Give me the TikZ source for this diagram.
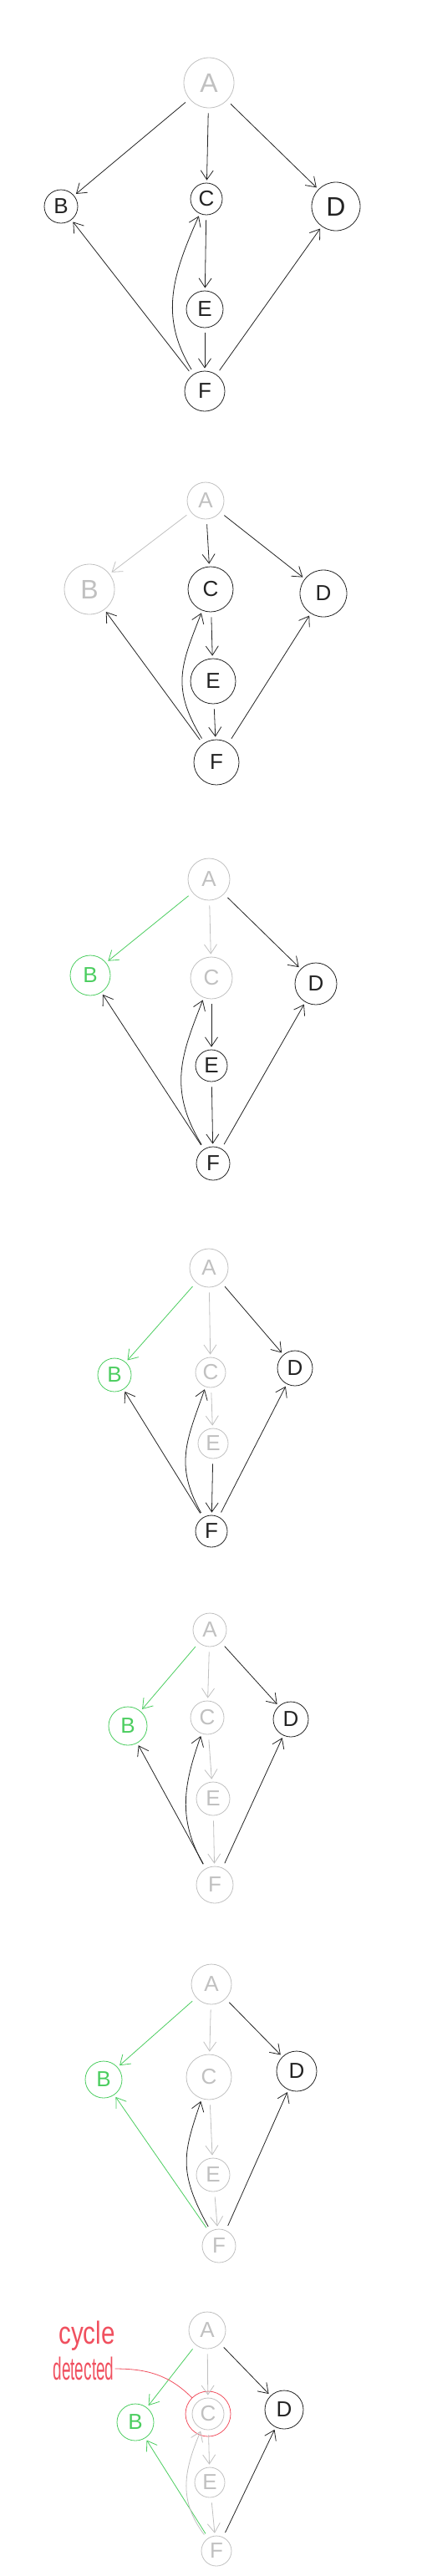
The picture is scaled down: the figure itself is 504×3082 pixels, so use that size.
\documentclass[tikz,border=0pt]{standalone}
\usepackage{fontspec}
\setmainfont{Liberation Sans}
\usetikzlibrary{arrows.meta}
\definecolor{lg}{RGB}{192,192,192}
\definecolor{gr}{RGB}{75,205,95}
\definecolor{rd}{RGB}{240,80,95}
\definecolor{ink}{RGB}{35,35,35}
\begin{document}
\begin{tikzpicture}[x=1pt,y=-1pt,
 nd/.style={circle,draw,inner sep=0pt,minimum size=#1pt,line width=0.8pt,font=\fontsize{26}{26}\selectfont},
 big/.style={font=\fontsize{32}{32}\selectfont},
 gn/.style={nd=#1,draw=lg,text=lg},
 kn/.style={nd=#1,draw=ink,text=ink},
 grn/.style={nd=#1,draw=gr,text=gr},
 ed/.style={line width=0.8pt,-{Straight Barb[length=11pt,width=15pt]},shorten >=3pt,shorten <=6pt},
 ge/.style={ed,draw=lg},
 ke/.style={ed,draw=ink},
 gre/.style={ed,draw=gr},
 note/.style={text=rd,inner sep=1pt,font=\fontsize{38}{38}\selectfont},
]
\useasboundingbox (0,0) rectangle (504,3082);
% ---------- panel 1
\node[gn=60,big] (a1) at (250,99) {A};
\node[kn=40] (b1) at (73,247) {B};
\node[kn=38] (c1) at (247,238) {C};
\node[kn=58,big] (d1) at (402,247) {D};
\node[kn=44] (e1) at (245,370) {E};
\node[kn=48] (f1) at (245,468) {F};
\draw[ke] (a1) -- (b1);
\draw[ke] (a1) -- (c1);
\draw[ke] (a1) -- (d1);
\draw[ke] (c1) -- (e1);
\draw[ke] (e1) -- (f1);
\draw[ke] (f1) -- (b1);
\draw[ke] (f1) .. controls +(-55,-90) and +(-40,90) .. (c1);
\draw[ke] (f1) -- (d1);
% ---------- panel 2
\node[gn=44] (a2) at (246,599) {A};
\node[gn=60,big] (b2) at (107,705) {B};
\node[kn=54] (c2) at (252,705) {C};
\node[kn=56] (d2) at (387,710) {D};
\node[kn=54] (e2) at (255,815) {E};
\node[kn=54] (f2) at (259,912) {F};
\draw[ge] (a2) -- (b2);
\draw[ke] (a2) -- (c2);
\draw[ke] (a2) -- (d2);
\draw[ke] (c2) -- (e2);
\draw[ke] (e2) -- (f2);
\draw[ke] (f2) -- (b2);
\draw[ke] (f2) .. controls +(-55,-90) and +(-35,90) .. (c2);
\draw[ke] (f2) -- (d2);
% ---------- panel 3
\node[gn=50] (a3) at (250,1052) {A};
\node[grn=48] (b3) at (108,1167) {B};
\node[gn=50] (c3) at (253,1170) {C};
\node[kn=50] (d3) at (378,1177) {D};
\node[kn=38] (e3) at (253,1275) {E};
\node[kn=40] (f3) at (255,1392) {F};
\draw[gre] (a3) -- (b3);
\draw[ge] (a3) -- (c3);
\draw[ke] (a3) -- (d3);
\draw[ke] (c3) -- (e3);
\draw[ke] (e3) -- (f3);
\draw[ke] (f3) -- (b3);
\draw[ke] (f3) .. controls +(-55,-90) and +(-35,90) .. (c3);
\draw[ke] (f3) -- (d3);
% ---------- panel 4
\node[gn=46] (a4) at (250,1517) {A};
\node[grn=40] (b4) at (137,1645) {B};
\node[gn=36] (c4) at (252,1642) {C};
\node[kn=42] (d4) at (353,1637) {D};
\node[gn=36] (e4) at (255,1727) {E};
\node[kn=38] (f4) at (253,1832) {F};
\draw[gre] (a4) -- (b4);
\draw[ge] (a4) -- (c4);
\draw[ke] (a4) -- (d4);
\draw[ge] (c4) -- (e4);
\draw[ke] (e4) -- (f4);
\draw[ke] (f4) -- (b4);
\draw[ke] (f4) .. controls +(-45,-80) and +(-28,80) .. (c4);
\draw[ke] (f4) -- (d4);
% ---------- panel 5
\node[gn=40] (a5) at (251,1950) {A};
\node[grn=46] (b5) at (153,2065) {B};
\node[gn=40] (c5) at (248,2055) {C};
\node[kn=42] (d5) at (348,2057) {D};
\node[gn=40] (e5) at (255,2152) {E};
\node[gn=44] (f5) at (257,2255) {F};
\draw[gre] (a5) -- (b5);
\draw[ge] (a5) -- (c5);
\draw[ke] (a5) -- (d5);
\draw[ge] (c5) -- (e5);
\draw[ge] (e5) -- (f5);
\draw[ke] (f5) -- (b5);
\draw[ke] (f5) .. controls +(-45,-80) and +(-28,80) .. (c5);
\draw[ke] (f5) -- (d5);
% ---------- panel 6
\node[gn=48] (a6) at (253,2374) {A};
\node[grn=44] (b6) at (124,2488) {B};
\node[gn=54] (c6) at (250,2485) {C};
\node[kn=48] (d6) at (355,2478) {D};
\node[gn=40] (e6) at (255,2602) {E};
\node[gn=40] (f6) at (262,2687) {F};
\draw[gre] (a6) -- (b6);
\draw[ge] (a6) -- (c6);
\draw[ke] (a6) -- (d6);
\draw[ge] (c6) -- (e6);
\draw[ge] (e6) -- (f6);
\draw[gre] (f6) -- (b6);
\draw[ke] (f6) .. controls +(-50,-90) and +(-30,90) .. (c6);
\draw[ke] (f6) -- (d6);
% ---------- panel 7
\node[gn=44] (a7) at (248,2788) {A};
\node[grn=44] (b7) at (162,2898) {B};
\node[gn=38] (c7) at (249,2888) {C};
\node[circle,draw=rd,line width=0.8pt,minimum size=54pt,inner sep=0pt] (rc) at (249,2888) {};
\node[kn=46] (d7) at (340,2883) {D};
\node[gn=36] (e7) at (251,2970) {E};
\node[gn=36] (f7) at (259,3052) {F};
\draw[gre] (a7) -- (b7);
\draw[ge] (a7) -- (c7);
\draw[ke] (a7) -- (d7);
\draw[ge] (c7) -- (e7);
\draw[ge] (e7) -- (f7);
\draw[gre] (f7) -- (b7);
\draw[ge] (f7) .. controls +(-45,-60) and +(-30,70) .. (c7);
\draw[ke] (f7) -- (d7);
\node[note] (cyc) at (104,2795) {\scalebox{0.78}[1]{cycle}};
\node[note] (det) at (100,2834) {\scalebox{0.5}[1]{detected}};
\draw[rd,line width=0.8pt] (det.east) to[out=0,in=135] (rc);
\end{tikzpicture}
\end{document}
